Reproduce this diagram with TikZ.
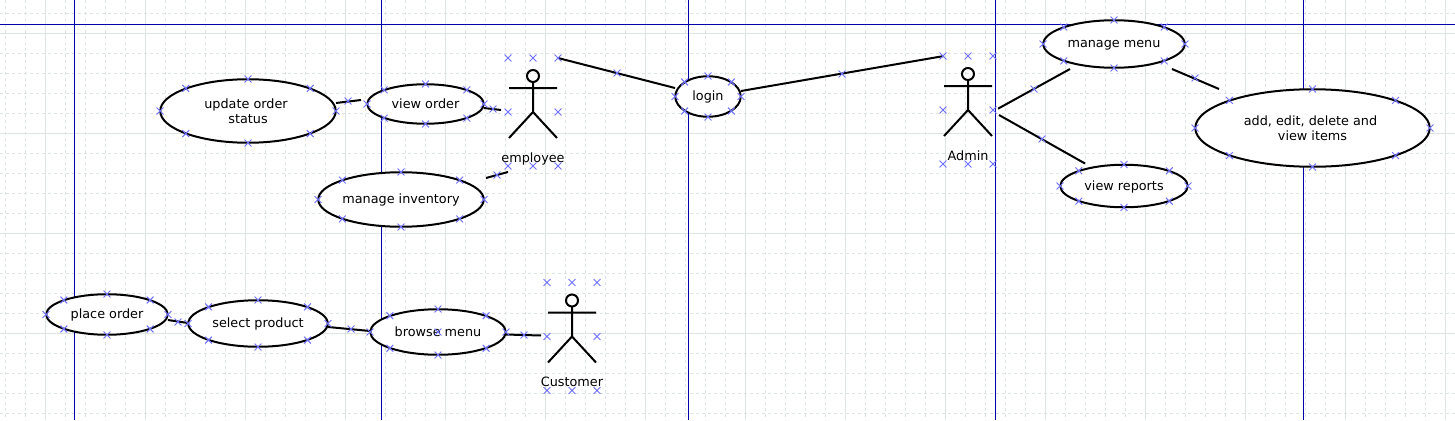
\documentclass[tikz,border=0pt]{standalone}
\usepackage{fontspec}
\setmainfont{DejaVu Sans}
\definecolor{gridc}{HTML}{DCE4E4}
\definecolor{bluec}{HTML}{0000AA}
\definecolor{markc}{HTML}{7070FF}
\tikzset{
  x=1pt,y=-1pt,
  gridmajor/.style={draw=gridc,line width=1pt},
  gridminor/.style={draw=gridc,line width=1pt,dash pattern=on 3pt off 3pt},
  guide/.style={draw=bluec,line width=1pt},
  ucase/.style={ellipse,draw=black,fill=white,line width=2pt,inner sep=-30pt,outer sep=0pt,align=center,font=\fontsize{12.8}{15.5}\selectfont},
  link/.style={draw=black,line width=2pt},
  limb/.style={draw=black,line width=2pt},
  actorlabel/.style={inner sep=0pt,font=\fontsize{12.8}{16}\selectfont},
  xmark/.style={draw=markc,line width=1pt},
}
\usetikzlibrary{shapes.geometric}
\newcommand{\xm}[2]{\draw[xmark] (#1-3.4,#2-3.4) -- (#1+3.4,#2+3.4) (#1-3.4,#2+3.4) -- (#1+3.4,#2-3.4);}
\newcommand{\sh}[1]{\raisebox{0pt}[11pt][3pt]{#1}}
% name, cx, cy, rx, ry, text
\newcommand{\usecase}[6]{%
  \node[ucase,minimum width=2*#4 pt-0.5pt,minimum height=2*#5 pt-0.5pt] (#1) at (#2,#3) {#6};}
\newcommand{\casemarks}[4]{%
  \xm{#1}{#2-#4}\xm{#1}{#2+#4}\xm{#1-#3}{#2}\xm{#1+#3}{#2}%
  \xm{#1-0.7071*#3}{#2-0.7071*#4}\xm{#1+0.7071*#3}{#2-0.7071*#4}%
  \xm{#1-0.7071*#3}{#2+0.7071*#4}\xm{#1+0.7071*#3}{#2+0.7071*#4}}
% name, cx, top of marks y, text, label y
\newcommand{\actor}[5]{%
  \draw[limb] (#2,#3+18) circle[radius=6];
  \draw[limb] (#2,#3+24) -- (#2,#3+54) (#2-24,#3+30) -- (#2+24,#3+30)
    (#2-24,#3+80) -- (#2,#3+54) -- (#2+24,#3+80);
  \node[actorlabel] (#1) at (#2,#5) {#4};
  \xm{#2-25}{#3}\xm{#2}{#3}\xm{#2+25}{#3}\xm{#2-25}{#3+54}\xm{#2+25}{#3+54}
  \xm{#2-25}{#3+108}\xm{#2}{#3+108}\xm{#2+25}{#3+108}}
\begin{document}
\begin{tikzpicture}
\useasboundingbox (0,0) rectangle (1455,420);
\fill[white] (0,0) rectangle (1455,420);
% grid
\foreach \k in {0,...,72}{
  \pgfmathsetmacro{\gx}{5.5+20*\k}
  \draw[gridminor] (\gx,0) -- (\gx,420);}
\foreach \k in {0,...,20}{
  \pgfmathsetmacro{\gy}{13.5+20*\k}
  \draw[gridminor] (0,\gy) -- (1455,\gy);}
\foreach \k in {0,...,14}{
  \pgfmathsetmacro{\gx}{45.5+100*\k}
  \draw[gridmajor] (\gx,0) -- (\gx,420);}
\foreach \k in {0,...,3}{
  \pgfmathsetmacro{\gy}{33.5+100*\k}
  \draw[gridmajor] (0,\gy) -- (1455,\gy);}
% guides
\draw[guide] (0,24.5) -- (1455,24.5);
\foreach \gx in {74.5,381.5,688.5,995.5,1303.5}{
  \draw[guide] (\gx,0) -- (\gx,420);}
% use cases
\usecase{update}{248}{111}{88}{32}{update order\hspace*{4pt}\\status}
\usecase{vieworder}{425.5}{104}{58.5}{20}{\sh{view order}}
\usecase{login}{708}{96.5}{33}{20.5}{\sh{login}}
\usecase{inventory}{401}{199.5}{83}{27.5}{\sh{manage inventory}}
\usecase{menu}{1114}{44}{71}{24}{\sh{manage menu}}
\usecase{reports}{1124}{186}{64}{21.5}{\sh{view reports}}
\usecase{items}{1312.5}{128}{117.5}{39}{add, edit, delete and\hspace*{4pt}\\view items}
\usecase{place}{107}{314.5}{61}{20.5}{\sh{place order}}
\usecase{select}{258}{323.5}{70}{23.5}{\sh{select product}}
\usecase{browse}{438}{332}{68}{23}{\sh{browse menu}}
% connector ends
\coordinate (eA) at (558,58);    \coordinate (lA) at (675,88);
\coordinate (lB) at (741,91);    \coordinate (aA) at (944,56);
\coordinate (uA) at (336,103);   \coordinate (vA) at (361,100);
\coordinate (vB) at (484,108);   \coordinate (eB) at (501,110);
\coordinate (iA) at (486,178);   \coordinate (eC) at (508,172);
\coordinate (aB) at (998,108.7); \coordinate (mA) at (1070,69);
\coordinate (aC) at (999,115);   \coordinate (rA) at (1085,163.5);
\coordinate (mB) at (1172,69);   \coordinate (tA) at (1219,89);
\coordinate (pA) at (168,320);   \coordinate (sA) at (188,323);
\coordinate (sB) at (328,327);   \coordinate (bA) at (370,331);
\coordinate (bB) at (505,334.5); \coordinate (cA) at (541,335.5);
\foreach \p/\q in {eA/lA,lB/aA,uA/vA,vB/eB,iA/eC,aB/mA,aC/rA,mB/tA,pA/sA,sB/bA,bB/cA}{
  \draw[link] (\p) -- (\q);}
% actors
\actor{employee}{533}{58}{employee}{158.6}
\actor{admin}{968}{56}{Admin}{156}
\actor{customer}{572}{282.5}{Customer}{382}
% marks
\casemarks{248}{111}{88}{32}
\casemarks{425.5}{104}{58.5}{20}
\casemarks{708}{96.5}{33}{20.5}
\casemarks{401}{199.5}{83}{27.5}
\casemarks{1114}{44}{71}{24}
\casemarks{1124}{186}{64}{21.5}
\casemarks{1312.5}{128}{117.5}{39}
\casemarks{107}{314.5}{61}{20.5}
\casemarks{258}{323.5}{70}{23.5}
\casemarks{438}{332}{68}{23}
\xm{438}{332}
\xm{617}{73}\xm{842}{74}\xm{348}{101}\xm{493}{109}\xm{497}{175}
\xm{1034}{89}\xm{1042}{139}\xm{1195}{78}\xm{178}{322}\xm{351}{329}\xm{524}{335}
\end{tikzpicture}
\end{document}
